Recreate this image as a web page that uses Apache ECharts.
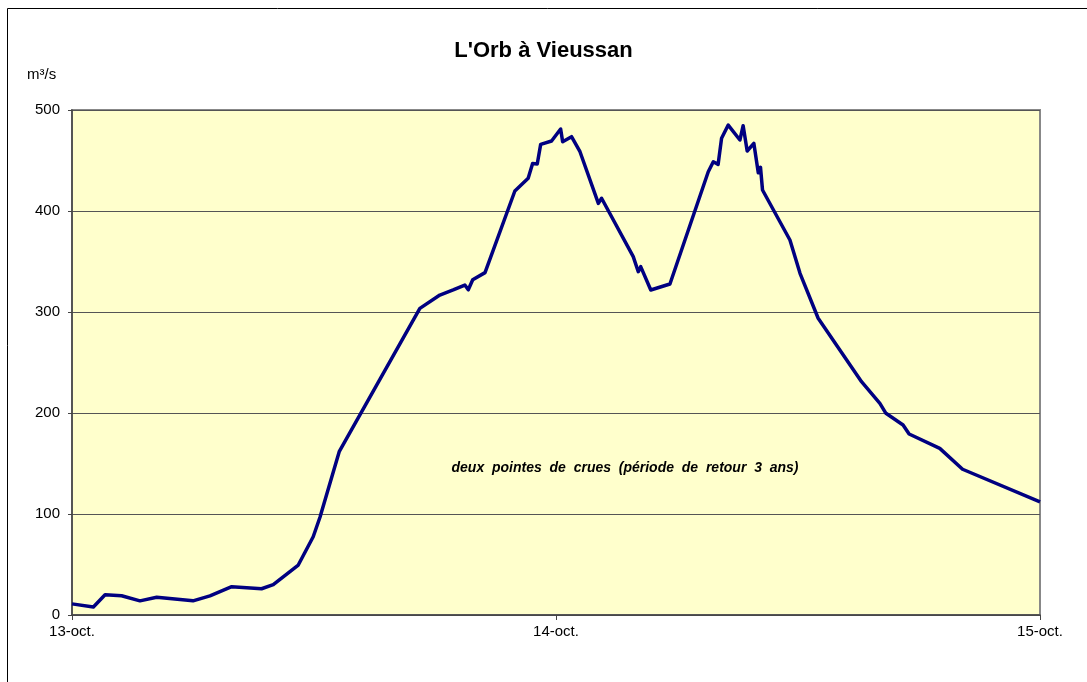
<!DOCTYPE html>
<html><head><meta charset="utf-8">
<script src="https://cdn.jsdelivr.net/npm/echarts@6/dist/echarts.min.js"></script>
<style>html,body{margin:0;padding:0;background:#fff;}#c{width:1087px;height:682px;}</style>
</head><body><div id="c"></div>
<script>
// hours since 13-oct 00:00
var hours = [0, 1.06, 1.64, 2.46, 3.37, 4.2, 6.0, 6.84, 7.92, 9.4, 9.98, 11.22, 11.96, 12.3, 13.25, 17.25, 18.24, 18.9, 19.48, 19.65, 19.87, 20.48, 21.96, 22.62, 22.84, 23.07, 23.24, 23.78, 24.23, 24.33, 24.77, 25.19, 26.1, 26.26, 27.83, 28.08, 28.2, 28.7, 29.65, 31.55, 31.8, 32.04, 32.21, 32.54, 33.12, 33.28, 33.48, 33.81, 34.03, 34.14, 34.24, 35.6, 36.1, 37.0, 39.15, 40.06, 40.36, 41.21, 41.51, 43.03, 44.16, 48];
var flow  = [11, 8, 20, 19, 14, 17.5, 14, 19, 28, 26, 30, 49.5, 77.5, 97, 161.7, 303.6, 316.8, 321.8, 326.7, 322, 332, 339, 419.8, 432.4, 447, 446.5, 466, 469.3, 481.2, 468.6, 473.6, 458.7, 407.6, 412.6, 354.8, 339.9, 344.9, 321.8, 327.7, 438.9, 448.8, 446.2, 472, 485.1, 470.3, 484.5, 459.4, 467, 437.9, 443.3, 420.8, 371.3, 338.3, 293.8, 231, 209.6, 199.7, 188.1, 179.2, 165, 144.3, 112];
var xTickLabels = ["13-oct.", "14-oct.", "15-oct."];
var title = "L'Orb à Vieussan";
var unit = "m³/s";
var note = "deux  pointes  de  crues  (période  de  retour  3  ans)";

var chart = echarts.init(document.getElementById('c'));
var data = hours.map(function(h,i){return [h, flow[i]];});
var FF = 'Liberation Sans, Arial, sans-serif';
chart.setOption({
  animation: false,
  title: {text: title, left: 'center', top: 35, textStyle: {fontFamily: FF, fontSize: 22, fontWeight: 'bold', color: '#000'}},
  graphic: [
    {type: 'rect', shape: {x: 7.5, y: 8.5, width: 2000, height: 2000}, style: {fill: 'none', stroke: '#000', lineWidth: 1}, z: 100},
    {type: 'text', x: 27, y: 75, style: {text: unit, fontFamily: FF, fontSize: 15, fill: '#000', verticalAlign: 'middle'}},
    {type: 'text', x: 625, y: 468, style: {text: note, fontFamily: FF, fontSize: 14, fontWeight: 'bold', fontStyle: 'italic', fill: '#000', align: 'center', verticalAlign: 'middle'}, z: 50}
  ],
  grid: {left: 72, right: 47, top: 110, bottom: 67, show: true, backgroundColor: '#FFFFCC', borderColor: '#888', borderWidth: 2},
  xAxis: {type: 'value', min: 0, max: 48, interval: 24,
    axisLine: {show: true, onZero: false, lineStyle: {color: '#444', width: 1.5}},
    axisTick: {show: true, length: 5, lineStyle: {color: '#444'}},
    splitLine: {show: false},
    axisLabel: {margin: 9, fontFamily: FF, fontSize: 15, color: '#000',
      formatter: function(v){return xTickLabels[Math.round(v/24)];}}
  },
  yAxis: {type: 'value', min: 0, max: 500, interval: 100,
    axisLine: {show: true, lineStyle: {color: '#444', width: 1.5}},
    axisTick: {show: true, length: 4, lineStyle: {color: '#444'}},
    splitLine: {show: true, lineStyle: {color: '#555', width: 1}},
    axisLabel: {margin: 12, fontFamily: FF, fontSize: 15, color: '#000'}
  },
  series: [{type: 'line', data: data, showSymbol: false, symbol: 'none',
    lineStyle: {color: '#000080', width: 3.5, join: 'round'}}]
});
</script></body></html>
